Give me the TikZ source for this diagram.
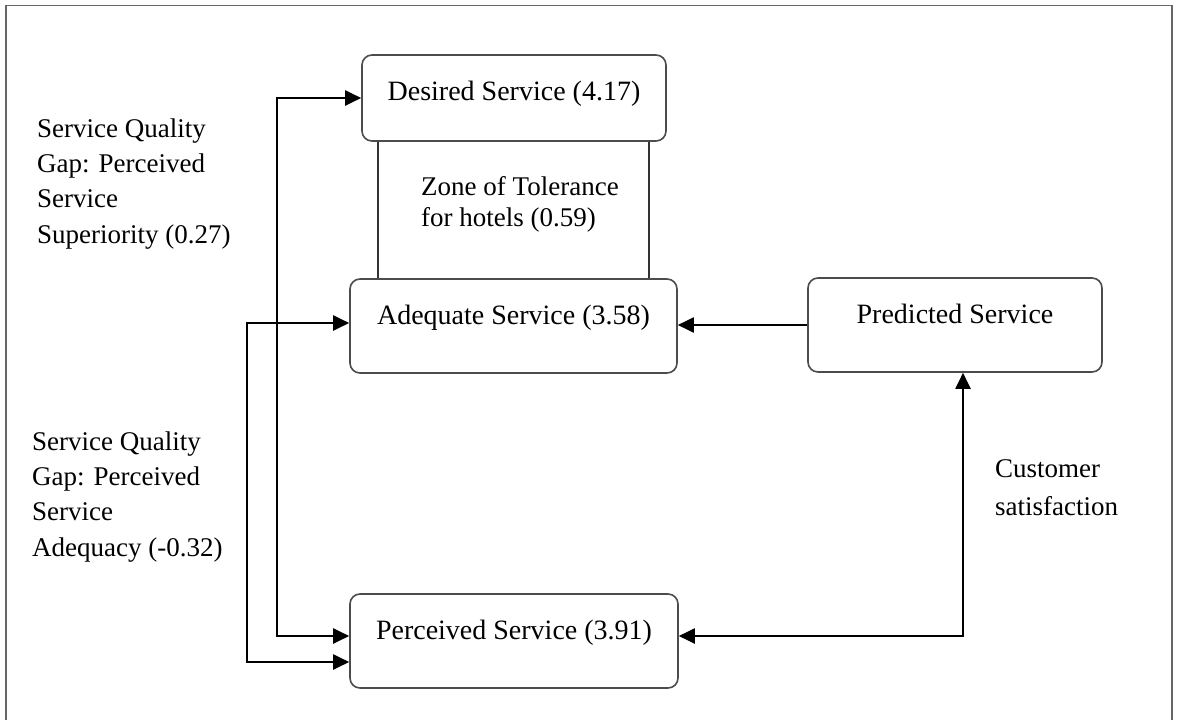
\documentclass[tikz,border=0pt]{standalone}
\usepackage{fontspec}
\setmainfont{Liberation Serif}
\usetikzlibrary{arrows.meta}
\def\tip{Triangle[length=16pt,width=15pt]}
\def\zone{\draw[line width=1.3pt,black!80]}
\tikzset{
  svcbox/.style={draw=black!70,line width=1.6pt,rounded corners=10pt,fill=white,
    font=\fontsize{28}{34}\selectfont,inner sep=0pt,text height=45pt,text depth=49pt},
  gaptext/.style={align=left,inner sep=0pt,anchor=base west,font=\fontsize{27}{35.3}\selectfont},
  arr/.style={line width=2pt,-{\tip}},
  biarr/.style={line width=2pt,{\tip}-{\tip}},
}
\begin{document}
\begin{tikzpicture}[x=1pt,y=-1pt]
  \useasboundingbox (0,0) rectangle (1179,720);
  \draw[line width=1.8pt,black!60] (6,722) -- (6,5.5) -- (1172,5.5) -- (1172,722);

  % service levels
  \node[svcbox,minimum width=304pt,text depth=41pt] (desired) at (514,98) {Desired Service (4.17)};
  \node[svcbox,minimum width=327pt] (adequate) at (513.5,326) {Adequate Service (3.58)};
  \node[svcbox,minimum width=328pt] (perceived) at (514,641) {Perceived Service (3.91)};
  \node[svcbox,minimum width=294pt] (predicted) at (955,325) {Predicted Service};

  % zone of tolerance
  \zone ([xshift=-136pt]desired.south) -- ([xshift=-136pt]desired.south |- adequate.north);
  \zone ([xshift=135pt]desired.south) -- ([xshift=135pt]desired.south |- adequate.north);
  \node[gaptext,font=\fontsize{27}{31}\selectfont] (zot) at (421,226) {Zone of Tolerance\\for hotels (0.59)};

  % gaps
  \coordinate (suplane) at (277,0);
  \coordinate (adqlane) at (247,0);
  \draw[biarr] (desired.west) -- (desired.west -| suplane) |- ([yshift=5pt]perceived.west);
  \draw[biarr] ([yshift=3pt]adequate.west) -- ([yshift=3pt]adequate.west -| adqlane) |- ([yshift=-21pt]perceived.west);
  \draw[arr] (predicted.west) -- (predicted.west -| adequate.east);
  \draw[biarr] ([yshift=5pt]perceived.east) -| ([xshift=8pt]predicted.south);

  \node[gaptext] (supgap) at (37,243) {Service Quality\\Gap: Perceived\\Service\\Superiority (0.27)};
  \node[gaptext] (adqgap) at (32,556) {Service Quality\\Gap: Perceived\\Service\\Adequacy (-0.32)};
  \node[gaptext,font=\fontsize{27}{38}\selectfont] (custsat) at (995,515) {Customer\\satisfaction};
\end{tikzpicture}
\end{document}
